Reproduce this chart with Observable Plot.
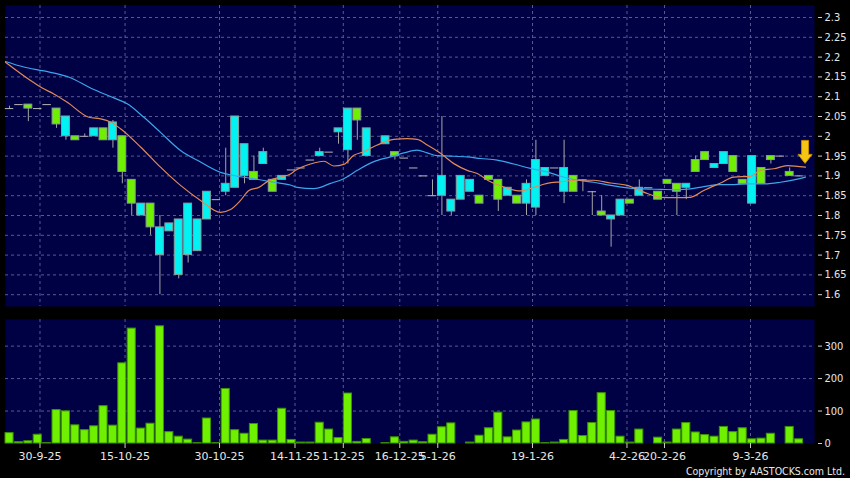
<!DOCTYPE html>
<html><head><meta charset="utf-8">
<script src="https://cdn.jsdelivr.net/npm/d3@7"></script>
<script src="https://cdn.jsdelivr.net/npm/@observablehq/plot@0.6"></script>
<style>
html,body{margin:0;padding:0;background:#000;}
#wrap{position:relative;width:850px;height:478px;background:#000;overflow:hidden;}
#price{position:absolute;left:0;top:0;}
#vol{position:absolute;left:0;top:310px;}
#copy{position:absolute;right:5px;top:465px;font-family:"DejaVu Sans Condensed","DejaVu Sans",sans-serif;font-stretch:condensed;font-size:10.5px;line-height:13px;color:#e8e8e8;}
</style></head><body>
<div id="wrap"><div id="price"></div><div id="vol"></div><div id="copy">Copyright by AASTOCKS.com Ltd.</div></div>
<script>
// ---- data (index = trading-day slot) ----
const openP  = [2.07,2.08,2.08,2.07,2.08,2.07,2.00,2.00,2.00,2.00,2.02,1.99,2.00,1.89,1.80,1.83,1.70,1.76,1.65,1.70,1.71,1.79,1.84,1.86,1.87,1.90,1.91,1.93,1.89,1.89,1.915,1.92,1.94,1.95,1.96,2.01,1.965,2.07,1.95,null,1.98,1.96,1.945,1.92,1.90,1.85,1.85,1.81,1.84,1.86,1.85,1.90,1.89,1.85,1.85,1.83,1.82,1.90,1.92,1.86,1.90,1.89,1.86,1.81,1.79,1.80,1.84,1.85,1.87,1.86,1.89,1.88,1.87,1.94,1.96,1.92,1.93,1.95,1.89,1.83,1.92,1.95,1.95,1.91,1.90];
const highP  = [2.076,2.08,2.08,2.07,2.08,2.07,2.05,2.00,2.006,2.02,2.02,2.04,2.00,1.89,1.83,1.83,1.80,1.78,1.79,1.83,1.79,1.86,1.84,1.97,2.05,1.98,1.95,1.97,1.89,1.90,1.915,1.92,1.94,1.97,1.96,2.02,2.07,2.07,2.02,null,2.00,1.96,1.945,1.92,1.90,1.89,2.05,1.84,1.90,1.89,1.85,1.90,1.89,1.87,1.85,1.89,1.99,1.92,1.92,1.99,1.90,1.89,1.86,1.85,1.80,1.84,1.84,1.89,1.87,1.86,1.89,1.88,1.88,1.95,1.96,1.93,1.96,1.95,1.89,1.95,1.92,1.95,1.95,1.92,1.90];
const lowP   = [2.07,2.08,2.037,2.07,2.08,2.02,1.99,1.99,2.00,2.00,1.99,1.97,1.88,1.80,1.80,1.75,1.60,1.76,1.64,1.68,1.71,1.79,1.84,1.85,1.87,1.88,1.89,1.93,1.86,1.89,1.915,1.92,1.94,1.95,1.96,1.98,1.93,1.99,1.95,null,1.98,1.94,1.945,1.92,1.90,1.85,1.80,1.80,1.84,1.86,1.83,1.89,1.81,1.85,1.83,1.80,1.80,1.90,1.92,1.83,1.86,1.86,1.80,1.80,1.72,1.80,1.83,1.85,1.87,1.84,1.88,1.80,1.84,1.91,1.94,1.92,1.93,1.91,1.88,1.83,1.88,1.93,1.95,1.90,1.90];
const closeP = [2.07,2.08,2.07,2.07,2.08,2.03,2.05,1.99,2.00,2.02,1.99,2.035,1.91,1.83,1.83,1.77,1.77,1.78,1.79,1.83,1.79,1.86,1.84,1.88,2.05,1.98,1.89,1.96,1.86,1.90,1.915,1.92,1.94,1.96,1.96,2.02,2.07,2.04,2.02,null,2.00,1.95,1.945,1.92,1.90,1.85,1.90,1.84,1.90,1.89,1.83,1.89,1.84,1.87,1.83,1.88,1.94,1.92,1.92,1.92,1.86,1.89,1.86,1.80,1.80,1.84,1.83,1.87,1.87,1.84,1.88,1.86,1.88,1.91,1.94,1.93,1.96,1.91,1.88,1.95,1.88,1.94,1.95,1.90,1.90];
const volume = [32,4,7,27,1,103,99,56,41,53,115,55,247,354,46,61,361,35,21,12,1,77,1,168,41,30,60,9,9,107,11,3,3,64,43,17,154,5,14,0,1,19,5,9,4,27,50,62,0,3,24,47,95,19,40,65,74,1,3,11,100,23,63,155,100,21,3,43,0,18,3,43,63,34,26,21,51,35,47,13,15,30,0,51,13];

// moving averages (orange = short, blue = long), read at slot positions
const maShortPos = [-0.43,2.23,3.48,4.71,6.14,8.44,9.68,10.74,11.81,13.94,16.06,18.19,20.32,22.45,23.51,24.57,25.46,26.52,27.59,28.83,29.89,30.43,32.02,33.44,34.5,35.56,36.63,37.69,39.12,40.88,42.31,43.37,44.44,45.85,47.27,48.69,49.76,51.17,52.59,54.36,55.78,57.2,58.62,60.39,62.16,63.94,65.71,67.48,69.26,71.03,72.45,73.86,75.64,77.05,78.83,79.89,81.31,82.73,84.68];
const maShortVal = [2.187,2.141,2.122,2.107,2.086,2.048,2.044,2.036,2.019,1.973,1.922,1.876,1.838,1.808,1.815,1.838,1.863,1.871,1.888,1.897,1.905,1.914,1.930,1.937,1.925,1.929,1.952,1.961,1.978,1.992,1.994,1.992,1.978,1.957,1.931,1.914,1.906,1.885,1.872,1.862,1.871,1.881,1.885,1.889,1.889,1.882,1.876,1.859,1.846,1.845,1.846,1.863,1.882,1.897,1.899,1.914,1.918,1.926,1.922];
const maLongPos = [-0.43,1.52,3.65,6.49,8.62,11.1,12.52,14.29,16.06,18.19,20.32,22.45,23.83,25.96,28.09,29.89,30.61,32.37,34.15,35.56,36.99,38.76,40.53,41.95,43.37,44.44,45.5,46.91,48.69,50.11,51.88,53.65,55.43,57.2,58.62,60.39,62.16,63.94,65.71,67.48,69.26,71.03,72.45,73.86,75.64,77.05,78.83,80.61,82.02,83.44,84.68];
const maLongVal = [2.189,2.175,2.165,2.148,2.122,2.097,2.082,2.048,2.010,1.964,1.935,1.909,1.901,1.893,1.884,1.877,1.871,1.868,1.881,1.893,1.914,1.936,1.948,1.958,1.965,1.958,1.951,1.950,1.948,1.944,1.940,1.930,1.919,1.910,1.899,1.889,1.884,1.876,1.870,1.867,1.866,1.865,1.867,1.873,1.878,1.878,1.880,1.880,1.884,1.890,1.897];

const tickLabels = ["30-9-25","15-10-25","30-10-25","14-11-25","1-12-25","16-12-25","5-1-26","19-1-26","4-2-26","20-2-26","9-3-26"];
const tickPos    = [3.24,12.29,22.34,30.37,35.51,41.52,45.56,55.64,65.69,69.68,78.83];
const priceTicks = [1.6,1.65,1.7,1.75,1.8,1.85,1.9,1.95,2.0,2.05,2.1,2.15,2.2,2.25,2.3];
const volTicks   = [0,100,200,300];

// ---- build ----
const bars = volume.map((v, i) => ({i, o: openP[i], h: highP[i], l: lowP[i], c: closeP[i], v}));
const candles = bars.filter(d => d.o != null);
const bodies = candles.filter(d => d.o !== d.c);
const dojis = candles.filter(d => d.o === d.c);
const maShort = maShortPos.map((x, k) => ({x, y: maShortVal[k]}));
const maLong = maLongPos.map((x, k) => ({x, y: maLongVal[k]}));
const labelOf = new Map(tickPos.map((p, k) => [p, tickLabels[k]]));
const last = candles[candles.length - 1];

const NAVY = "#000044", GRID = "#5a5a92", CYAN = "#00f2f2", GREEN = "#6ef000";
const xDomain = [-0.43, 85.64];
const font = "'DejaVu Sans', sans-serif";
const fontC = "'DejaVu Sans Condensed', 'DejaVu Sans', sans-serif";

const arrowSymbol = {draw(ctx) {
  ctx.moveTo(-3.5, -11.5); ctx.lineTo(3.5, -11.5); ctx.lineTo(3.5, 2.5);
  ctx.lineTo(7, 2.5); ctx.lineTo(0, 11.5); ctx.lineTo(-7, 2.5); ctx.lineTo(-3.5, 2.5); ctx.closePath();
}};

const pricePlot = Plot.plot({
  width: 850, height: 310, marginLeft: 5, marginRight: 36, marginTop: 5, marginBottom: 4,
  style: {background: "#000", color: "#e6e6e6", fontFamily: font},
  x: {type: "linear", domain: xDomain, axis: null},
  y: {domain: [1.5702, 2.3303]},
  marks: [
    Plot.frame({fill: NAVY, stroke: "none"}),
    Plot.gridY(priceTicks, {stroke: GRID, strokeOpacity: 1, strokeDasharray: "3,3"}),
    Plot.gridX(tickPos, {stroke: GRID, strokeOpacity: 1, strokeDasharray: "3,3"}),
    Plot.axisY(priceTicks, {anchor: "right", label: null, tickSize: 4, tickPadding: 3, dx: 3, fontSize: 11, fontFamily: fontC,
      tickFormat: d => String(+d.toFixed(2)), stroke: "#cfcfcf"}),
    Plot.ruleX(candles, {x: "i", y1: "l", y2: "h", stroke: "#a6a6a6", strokeWidth: 1}),
    Plot.rect(bodies, {x1: d => d.i - 0.42, x2: d => d.i + 0.42, y1: "o", y2: "c",
      fill: d => d.c > d.o ? CYAN : GREEN, stroke: "#8a9e9e", strokeWidth: 1}),
    Plot.ruleY(dojis, {y: "c", x1: d => d.i - 0.45, x2: d => d.i + 0.45, stroke: "#b8b8b8", strokeWidth: 1}),
    Plot.line(maLong, {x: "x", y: "y", stroke: "#3aa6ec", strokeWidth: 1.2, curve: "monotone-x"}),
    Plot.line(maShort, {x: "x", y: "y", stroke: "#e08a58", strokeWidth: 1.2, curve: "monotone-x"}),
    Plot.dot([last], {x: "i", y: "c", dx: 6, dy: -24, r: 10, symbol: arrowSymbol,
      fill: "#f6c512", stroke: "#c58a00", strokeWidth: 1})
  ]
});
document.getElementById("price").append(pricePlot);

const volPlot = Plot.plot({
  width: 850, height: 168, marginLeft: 5, marginRight: 36, marginTop: 9, marginBottom: 35,
  style: {background: "#000", color: "#e6e6e6", fontFamily: font},
  x: {type: "linear", domain: xDomain, axis: null},
  y: {domain: [0, 382]},
  marks: [
    Plot.frame({fill: NAVY, stroke: "none"}),
    Plot.gridY(volTicks.filter(v => v > 0), {stroke: GRID, strokeOpacity: 1, strokeDasharray: "3,3"}),
    Plot.gridX(tickPos, {stroke: GRID, strokeOpacity: 1, strokeDasharray: "3,3"}),
    Plot.rect(bars.filter(d => d.v > 0), {x1: d => d.i - 0.43, x2: d => d.i + 0.43, y1: 0, y2: "v",
      fill: GREEN, stroke: "#3c9400", strokeWidth: 1}),
    Plot.axisY(volTicks, {anchor: "right", label: null, tickSize: 4, tickPadding: 3, dx: 3, fontSize: 11, fontFamily: fontC, stroke: "#cfcfcf"}),
    Plot.axisX(tickPos, {anchor: "bottom", label: null, tickSize: 5, tickPadding: 4, fontSize: 11, fontFamily: font,
      tickFormat: d => labelOf.get(d), stroke: "#cfcfcf"})
  ]
});
document.getElementById("vol").append(volPlot);
</script>
</body></html>
